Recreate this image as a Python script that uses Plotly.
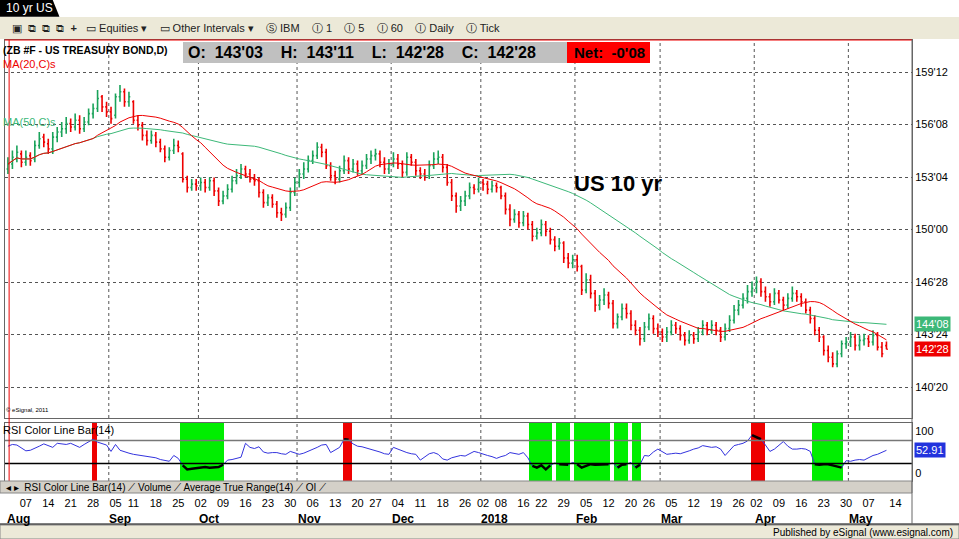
import plotly.graph_objects as go
import pandas as pd
import numpy as np

# daily bars, Aug 1 2017 .. May 11 2018
opens = [153.6,153.9,154.2,154.5, 154.0,154.4,154.2,155.0,155.5, 155.1,154.8,155.5,155.8,156.0,
         156.3,156.1,156.5,156.0,156.4, 156.9,157.2,157.9,157.3,157.0, 156.8,157.9,158.2,157.6,
         157.6,156.5,156.2,155.6,155.3, 155.6,155.2,154.8,154.3,154.7, 155.0,154.5,153.0,152.5,152.7,
         152.6,152.8,152.5,152.9,152.3, 151.7,152.0,152.4,152.9,153.2, 153.6,153.3,153.0,152.9,152.2,
         151.6,151.9,151.5,151.0,150.9, 151.3,152.2,152.8,153.3,153.6, 154.1,154.4,154.9,154.6,153.8,
         153.2,153.0,153.5,154.1,153.6, 153.9,153.5,153.8,154.2, 154.4,154.5,154.0,153.6,153.9,
         154.2,153.9,153.4,154.3,154.0, 153.5,153.3,153.2,153.8,154.2, 154.3,153.7,152.8,152.0,151.4,
         151.7,152.0,152.5,152.4, 152.8,152.7,152.4,152.6, 152.5,152.0,151.2,150.6,150.9,
         150.4,150.8,150.3,149.6, 149.8,150.3,149.9,149.4,149.0, 149.2,148.3,148.0,148.2,147.8,
         146.4,147.0,146.2,145.5,145.8, 146.1,145.6,144.4,144.8,145.3, 145.0,144.3,144.0,143.5,
         144.2,144.7,144.1,143.9,143.6, 143.9,144.3,144.1,143.7,143.4, 143.7,143.5,143.9,144.3,144.0,
         144.3,144.0,143.6,144.1,144.6, 145.2,145.5,145.9,146.3, 146.5,146.9,146.3,146.0,145.7,
         146.2,145.8,145.5,145.9,146.2, 146.0,145.7,145.2,144.7,144.0, 143.6,142.8,142.4,142.0,142.6,
         143.2,143.3,143.6,143.1,143.4, 143.5,143.3,143.7,143.0,143.09]
highs = [154.3,154.7,155.0,154.7, 154.7,154.6,155.3,155.8,155.7, 155.4,155.8,156.1,156.4,156.7,
         156.6,156.9,156.8,156.7,157.2, 157.5,158.3,158.0,157.6,157.3, 158.1,158.6,158.4,158.2,
         157.7,156.8,156.4,155.9,155.9, 155.8,155.4,155.0,154.9,155.4, 155.3,154.6,153.2,153.0,153.0,
         153.1,153.0,153.1,153.1,152.5, 152.3,152.7,153.2,153.6,153.9, 153.8,153.6,153.3,153.1,152.4,
         152.1,152.1,151.7,151.3,151.6, 152.5,153.1,153.6,154.0,154.4, 154.7,155.2,155.1,154.8,154.0,
         153.5,153.8,154.4,154.3,154.2, 154.1,154.1,154.5,154.7, 154.8,154.7,154.3,154.2,154.6,
         154.5,154.1,154.6,154.5,154.2, 153.7,153.6,154.1,154.6,154.7, 154.5,153.9,153.0,152.2,152.0,
         152.3,152.8,152.7,153.1, 153.0,152.9,152.9,152.8, 152.6,152.2,151.5,151.2,151.1,
         151.1,151.0,150.5,150.1, 150.6,150.5,150.1,149.6,149.5, 149.3,148.6,148.5,148.5,147.9,
         147.4,147.3,146.4,146.1,146.5, 146.3,145.8,145.0,145.6,145.6, 145.2,144.6,144.2,144.5,
         145.0,144.9,144.4,144.1,144.2, 144.6,144.5,144.3,143.9,144.0, 143.9,144.2,144.6,144.5,144.6,
         144.5,144.2,144.4,144.9,145.5, 145.8,146.2,146.7,146.9, 147.2,147.1,146.6,146.2,146.5,
         146.4,146.0,146.2,146.6,146.4, 146.2,145.9,145.4,144.9,144.2, 143.7,143.1,142.7,142.8,143.4,
         143.6,143.9,143.8,143.7,143.8, 143.7,144.0,143.9,143.3,143.34]
lows = [153.3,153.6,154.0,153.7, 153.8,153.8,154.0,154.8,154.9, 154.5,154.5,155.2,155.5,155.7,
        155.8,155.9,155.7,155.8,156.2, 156.6,157.0,157.0,156.7,156.3, 156.6,157.6,157.3,157.3,
        156.3,155.9,155.3,155.0,155.1, 154.9,154.6,154.0,154.1,154.5, 154.6,152.8,152.2,152.3,152.3,
        152.3,152.2,152.3,152.0,151.4, 151.5,151.8,152.2,152.7,153.0, 153.1,152.8,152.6,151.9,151.3,
        151.4,151.3,150.7,150.5,150.7, 151.1,152.0,152.5,153.0,153.4, 153.9,154.2,154.3,153.6,152.9,
        152.7,152.8,153.3,153.3,153.4, 153.2,153.3,153.6,153.9, 154.1,153.7,153.3,153.3,153.7,
        153.6,153.1,153.2,153.8,153.2, 153.0,152.9,153.0,153.6,153.9, 153.4,152.6,151.7,151.0,151.1,
        151.4,151.8,152.1,152.2, 152.3,152.1,152.2,152.2, 151.8,150.9,150.2,150.4,150.1,
        150.2,150.0,149.3,149.4, 149.6,149.6,149.1,148.7,148.8, 148.0,147.7,147.7,147.5,146.1,
        146.2,145.9,145.1,145.2,145.5, 145.3,144.1,144.1,144.6,144.7, 144.0,143.7,143.1,143.3,
        144.0,143.8,143.6,143.3,143.3, 143.7,143.8,143.4,143.1,143.2, 143.2,143.3,143.7,143.7,143.8,
        143.7,143.3,143.4,143.9,144.4, 144.9,145.3,145.6,146.0, 146.2,146.0,145.7,145.4,145.5,
        145.6,145.2,145.3,145.7,145.7, 145.4,145.0,144.4,143.7,143.3, 142.5,142.1,141.8,141.8,142.4,
        142.9,143.0,142.8,142.8,143.1, 143.0,143.1,142.8,142.4,142.875]
closes = [153.9,154.3,154.6,154.0, 154.3,154.1,155.0,155.4,155.2, 154.8,155.5,155.8,156.0,156.3,
          156.1,156.5,156.0,156.4,156.9, 157.2,157.8,157.3,157.0,156.6, 157.9,158.2,157.6,157.9,
          156.5,156.2,155.6,155.3,155.6, 155.2,154.8,154.3,154.7,155.0, 154.9,153.0,152.5,152.7,152.6,
          152.8,152.5,152.9,152.3,151.7, 152.0,152.4,152.9,153.2,153.6, 153.3,153.0,152.9,152.2,151.6,
          151.9,151.5,151.0,150.9,151.3, 152.2,152.8,153.3,153.6,154.1, 154.4,154.9,154.6,153.8,153.2,
          153.0,153.5,154.1,153.6,153.9, 153.5,153.8,154.2,154.4, 154.5,154.0,153.6,153.9,154.2,
          153.9,153.4,154.3,154.0,153.5, 153.3,153.2,153.8,154.2,154.3, 153.7,152.8,152.0,151.4,151.7,
          152.0,152.5,152.4,152.8, 152.7,152.4,152.6,152.5, 152.0,151.2,150.6,150.9,150.4,
          150.8,150.3,149.6,149.8, 150.3,149.9,149.4,149.0,149.2, 148.3,148.0,148.2,147.8,146.4,
          147.0,146.2,145.5,145.8,146.1, 145.6,144.4,144.8,145.3,145.0, 144.3,144.0,143.5,144.2,
          144.7,144.1,143.9,143.6,143.9, 144.3,144.1,143.7,143.4,143.7, 143.5,143.9,144.3,144.0,144.3,
          144.0,143.6,144.1,144.6,145.2, 145.5,145.9,146.3,146.5, 146.9,146.3,146.0,145.7,146.2,
          145.8,145.5,145.9,146.2,146.0, 145.7,145.2,144.7,144.0,143.6, 142.8,142.4,142.0,142.6,143.2,
          143.3,143.6,143.1,143.4,143.5, 143.3,143.7,143.0,142.6,142.875]
# RSI(14)
rsi_vals = [60,63,62,57,52,53,56,60,64,61, 58,65,64,63,65,62,58,63,67,72,
            67,65,62,51,63,53,50,48,46,45, 44,43,41,40,37,35,34,44,39,27,
            20,21,22,23,24,23,23,24,28,36, 37,39,41,65,58,56,59,50,48,49,
            49,47,46,51,48,46,48,51,55,58, 62,63,49,54,58,72,71,64,60,59,
            57,55,53,50,47,46,58,55,51,49, 47,46,36,42,47,49,46,38,36,40,
            42,44,43,47,51,49,46,44,42,39, 42,44,49,47,46,49,40,26,23,27,
            20,27,31,29,29,28,32,29,23,26, 29,28,28,28,29,31,23,28,29,32,
            23,28,44,43,50,55,50,46,47,48, 47,49,52,55,57,61,60,58,59,55,
            44,52,61,63,65,69,79,76,72,62, 51,55,61,68,60,55,55,56,55,51,
            29,28,29,29,27,25,23,35,34,36, 37,36,40,44,46,49,52.91]

holidays = ["2017-09-04", "2017-11-23", "2017-12-25", "2018-01-01", "2018-01-15",
            "2018-02-19", "2018-03-30"]
price_ticks = [159.375, 156.25, 153.125, 150.0, 146.875, 143.75, 140.625]
price_labels = ["159'12", "156'08", "153'04", "150'00", "146'28", "143'24", "140'20"]

dates = pd.bdate_range("2017-08-01", "2018-05-11")
dates = dates[~dates.isin(pd.to_datetime(holidays))]
n = len(dates)
idx = np.arange(n)

df = pd.DataFrame({"o": opens, "h": highs, "l": lows, "c": closes}, index=dates)
ma20 = df.c.rolling(20, min_periods=1).mean()
ma50 = df.c.rolling(50, min_periods=1).mean()
rsi = np.array(rsi_vals, dtype=float)

# weekly ticks: first trading day of each full week
wk = pd.Series(idx, index=dates).groupby(dates.to_period("W")).first()
wk = wk[wk.index.start_time >= dates[0]]
tickvals = list(wk.values) + [n + 1]
ticktext = [dates[i].strftime("%d") for i in wk.values] + ["14"]
mo = pd.Series(idx, index=dates).groupby(dates.to_period("M")).first()

fig = go.Figure()
fig.add_trace(go.Ohlc(x=idx, open=df.o, high=df.h, low=df.l, close=df.c,
                      increasing_line_color="#1aa35a", decreasing_line_color="#ee0000",
                      line_width=1.6, tickwidth=0.3, xaxis="x", yaxis="y"))
fig.add_trace(go.Scatter(x=idx, y=ma50, mode="lines", line=dict(color="#3cb878", width=1)))
fig.add_trace(go.Scatter(x=idx, y=ma20, mode="lines", line=dict(color="#ee0000", width=1)))

green = np.where(rsi < 30, 100, np.nan)
red = np.where(rsi > 70, 100, np.nan)
fig.add_trace(go.Bar(x=idx, y=green, marker_color="#00ee00", marker_line_width=0, width=1,
                     xaxis="x2", yaxis="y2"))
fig.add_trace(go.Bar(x=idx, y=red, marker_color="#ee0000", marker_line_width=0, width=1,
                     xaxis="x2", yaxis="y2"))
fig.add_trace(go.Scatter(x=idx, y=rsi, mode="lines", line=dict(color="#3333dd", width=1),
                         xaxis="x2", yaxis="y2"))
fig.add_trace(go.Scatter(x=idx, y=np.where((rsi < 30) | (rsi > 70), rsi, np.nan), mode="lines",
                         line=dict(color="black", width=2.5), xaxis="x2", yaxis="y2"))

xr = [-0.7, 201.7]
pd_top, pd_bot = 1 - 40 / 539, 1 - 418 / 539
rs_top, rs_bot = 1 - 423 / 539, 1 - 481 / 539
fig.update_layout(
    width=959, height=539, margin=dict(l=0, r=0, t=0, b=0),
    paper_bgcolor="white", plot_bgcolor="white", showlegend=False, bargap=0,
    font=dict(family="Liberation Sans, Arial", size=11, color="black"),
    xaxis=dict(domain=[0.005, 0.951], range=xr, showticklabels=False, showgrid=False,
               zeroline=False, rangeslider_visible=False, showline=True, linecolor="#666",
               mirror=True),
    yaxis=dict(domain=[pd_bot, pd_top], range=[138.78, 161.28], side="right",
               tickvals=price_ticks, ticktext=price_labels, ticks="", showline=True,
               linecolor="#666", mirror=True, gridcolor="#555", griddash="dot", gridwidth=1,
               zeroline=False, tickfont=dict(size=11, family="Liberation Sans")),
    xaxis2=dict(domain=[0.005, 0.951], range=xr, anchor="y2", tickvals=tickvals,
                ticktext=ticktext, ticks="", ticklabelstandoff=12, showgrid=False,
                zeroline=False, showline=True, linecolor="#666", mirror=True,
                tickfont=dict(size=11, family="Liberation Sans")),
    yaxis2=dict(domain=[rs_bot, rs_top], range=[0, 100], side="right", anchor="x2",
                tickvals=[86, 14], ticktext=["100", "0"], ticks="", showgrid=False,
                zeroline=False, showline=True, linecolor="#666", mirror=True,
                tickfont=dict(size=11, family="Liberation Sans")),
)

shapes = []
# monthly dotted verticals
for i in mo.values[1:]:
    for ya in ("y", "y2"):
        shapes.append(dict(type="line", xref="x", yref=ya + " domain", x0=i - 0.5, x1=i - 0.5,
                           y0=0, y1=1, line=dict(color="#555", width=1, dash="dot"), layer="below"))
shapes += [
    dict(type="line", xref="x2", yref="y2", x0=xr[0], x1=xr[1], y0=70, y1=70,
         line=dict(color="#777", width=1.5)),
    dict(type="line", xref="x2", yref="y2", x0=xr[0], x1=xr[1], y0=30, y1=30,
         line=dict(color="black", width=1.5)),
    # cursor lines
    dict(type="line", xref="paper", yref="paper", x0=0.0095, x1=0.0095, y0=rs_bot, y1=pd_top,
         line=dict(color="#ee0000", width=1)),
    dict(type="line", xref="paper", yref="paper", x0=0.005, x1=0.951, y0=pd_top, y1=pd_top,
         line=dict(color="#ee0000", width=1)),
    # header pieces
    dict(type="rect", xref="paper", yref="paper", x0=0, x1=1, y0=1 - 17 / 539, y1=1 - 39 / 539,
         fillcolor="#ece9d8", line_width=0, layer="below"),
    dict(type="path", xref="paper", yref="paper",
         path="M 0 1 L 0.055 1 L 0.062 0.969 L 0 0.969 Z", fillcolor="black", line_width=0),
    dict(type="rect", xref="paper", yref="paper", x0=183 / 959, x1=567 / 959,
         y0=1 - 63 / 539, y1=1 - 42 / 539, fillcolor="#c0c0c0", line_width=0),
    dict(type="rect", xref="paper", yref="paper", x0=567 / 959, x1=650 / 959,
         y0=1 - 63 / 539, y1=1 - 42 / 539, fillcolor="#ff0000", line_width=0),
    # tab strip and status bar
    dict(type="rect", xref="paper", yref="paper", x0=0, x1=0.951, y0=1 - 493 / 539,
         y1=1 - 481 / 539, fillcolor="#d4d0c8", line=dict(color="#888", width=1)),
    dict(type="rect", xref="paper", yref="paper", x0=0, x1=1, y0=0, y1=14 / 539,
         fillcolor="#ece9d8", line=dict(color="#888", width=1)),
    dict(type="line", xref="paper", yref="paper", x0=0, x1=1, y0=15 / 539, y1=15 / 539,
         line=dict(color="black", width=1)),
    dict(type="line", xref="paper", yref="paper", x0=0.951, x1=0.951, y0=15 / 539,
         y1=pd_top, line=dict(color="#666", width=1)),
]
fig.update_layout(shapes=shapes)

ann = []
def txt(x, y, s, size=11, color="black", anchor="left", bg=None):
    ann.append(dict(xref="paper", yref="paper", x=x / 959, y=1 - y / 539, text=s,
                    showarrow=False, xanchor=anchor, yanchor="middle", bgcolor=bg,
                    font=dict(size=size, color=color, family="Liberation Sans"),
                    borderpad=1))

txt(4, 8, "10 yr US", 12, "white")
txt(10, 28, "▣  ⧉  ⧉  ⧉  <b>+</b>   ▭ Equities ▾    ▭ Other Intervals ▾    Ⓢ IBM    Ⓘ 1    "
    "Ⓘ 5    Ⓘ 60    Ⓘ Daily    Ⓘ Tick", 11, "#222")
txt(1, 50, "<b>(ZB #F - US TREASURY BOND,D)</b>", 10.5)
txt(1, 64, "MA(20,C)s", 11, "#ee0000")
txt(1, 122, "MA(50,C)s", 11, "#3cb878")
txt(186, 52, "<b>O:  143'03    H:  143'11    L:  142'28    C:  142'28</b>", 16)
txt(572, 52, "<b>Net:  -0'08</b>", 15)
txt(572, 183, "<b>US 10 yr</b>", 22)
txt(4, 410, "© eSignal, 2011", 6)
txt(1, 430, "RSI Color Line Bar(14)", 11)
txt(4, 487, "◂ ▸  RSI Color Line Bar(14) ⟋ Volume ⟋ Average True Range(14) ⟋ OI ⟋", 10)
txt(955, 532, "Published by eSignal (www.esignal.com)", 10, anchor="right")
for i, name in zip(mo.values, mo.index):
    label = "2018" if name.month == 1 else name.strftime("%b")
    ann.append(dict(xref="x2", yref="paper", x=max(i - 0.8, -0.6), y=1 - 510 / 539,
                    text="<b>" + label + "</b>", showarrow=False, xanchor="left",
                    yanchor="top", font=dict(size=12, family="Liberation Sans")))
# last-value boxes
for yv, s, c in [(ma50.iloc[-1], "144'08", "#3cb878"), (closes[-1], "142'28", "#ee0000")]:
    ann.append(dict(xref="paper", yref="y", x=0.953, y=yv, text=s, showarrow=False,
                    xanchor="left", bgcolor=c, font=dict(size=11, color="white"), borderpad=1))
ann.append(dict(xref="paper", yref="y2", x=0.953, y=rsi[-1], text="%.2f" % rsi[-1],
                showarrow=False, xanchor="left", bgcolor="#2233dd",
                font=dict(size=11, color="white"), borderpad=1))
fig.update_layout(annotations=ann)

fig.write_html("out.html", config={"displayModeBar": False},
               post_script="document.body.style.margin='0px';")
